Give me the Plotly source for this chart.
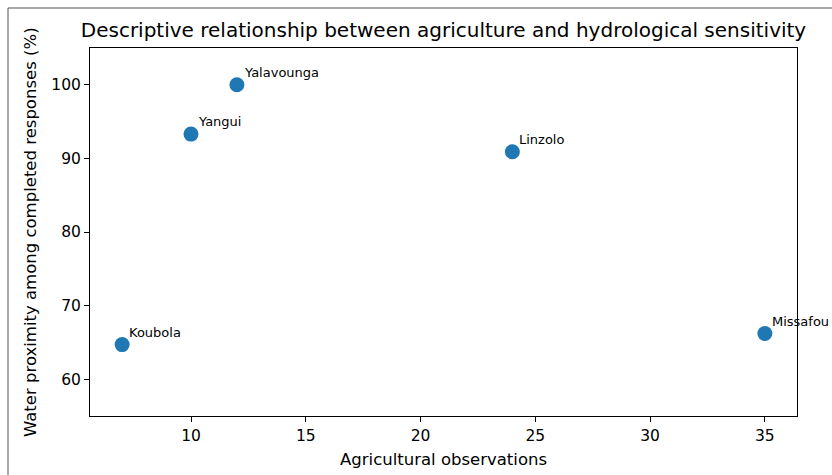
import plotly.graph_objects as go

# Villages surveyed
villages = ["Koubola", "Yangui", "Yalavounga", "Linzolo", "Missafou"]
agri_obs = [7, 10, 12, 24, 35]
water_pct = [64.7, 93.3, 100.0, 90.9, 66.2]

x_ticks = [10, 15, 20, 25, 30, 35]
y_ticks = [60, 70, 80, 90, 100]

W, H = 832, 475
ML, MR, MT, MB = 90, 35, 48, 59
PW, PH = W - ML - MR, H - MT - MB

FONT = "DejaVu Sans"
BLUE = "#1f77b4"


def px_to_paper_x(px):
    return (px - ML) / PW


def px_to_paper_y(py):
    return (H - MB - py) / PH


fig = go.Figure()
fig.add_trace(go.Scatter(
    x=agri_obs, y=water_pct, mode="markers",
    marker=dict(size=15, color=BLUE, line=dict(width=0)),
    hoverinfo="skip", showlegend=False, cliponaxis=False,
))

annotations = []
for name, xv, yv in zip(villages, agri_obs, water_pct):
    annotations.append(dict(
        x=xv, y=yv, xref="x", yref="y", text=name, showarrow=False,
        xanchor="left", yanchor="bottom", xshift=5, yshift=3,
        font=dict(family=FONT, size=13, color="#000"),
    ))

# Axis titles placed as annotations for exact positioning
annotations.append(dict(
    x=0.5, y=px_to_paper_y(459), xref="paper", yref="paper",
    text="Agricultural observations", showarrow=False,
    xanchor="center", yanchor="middle",
    font=dict(family=FONT, size=16.5, color="#000"),
))
annotations.append(dict(
    x=px_to_paper_x(30), y=0.5, xref="paper", yref="paper",
    text="Water proximity among completed responses (%)", showarrow=False,
    xanchor="center", yanchor="middle", textangle=-90,
    font=dict(family=FONT, size=16.5, color="#000"),
))

axis_common = dict(
    showgrid=False, zeroline=False, showline=True, linecolor="#000",
    linewidth=1, mirror=True, ticks="outside", ticklen=5, tickwidth=1,
    tickcolor="#000", tickfont=dict(family=FONT, size=15.5, color="#000"),
)

fig.update_layout(
    width=W, height=H,
    margin=dict(l=ML, r=MR, t=MT, b=MB, autoexpand=False),
    plot_bgcolor="white", paper_bgcolor="white",
    title=dict(
        text="Descriptive relationship between agriculture and hydrological sensitivity",
        x=0.5, xref="paper", xanchor="center",
        y=1 - 30 / H, yref="container", yanchor="middle",
        font=dict(family=FONT, size=20, color="#000"),
    ),
    xaxis=dict(range=[5.6, 36.4], tickvals=x_ticks, **axis_common),
    yaxis=dict(range=[55, 105], tickvals=y_ticks, **axis_common),
    annotations=annotations,
    shapes=[
        dict(type="line", xref="paper", yref="paper",
             x0=px_to_paper_x(8), y0=px_to_paper_y(8),
             x1=px_to_paper_x(W), y1=px_to_paper_y(8),
             line=dict(color="#555", width=1)),
        dict(type="line", xref="paper", yref="paper",
             x0=px_to_paper_x(8), y0=px_to_paper_y(8),
             x1=px_to_paper_x(8), y1=px_to_paper_y(H),
             line=dict(color="#555", width=1)),
    ],
)

fig.write_html("out.html")
